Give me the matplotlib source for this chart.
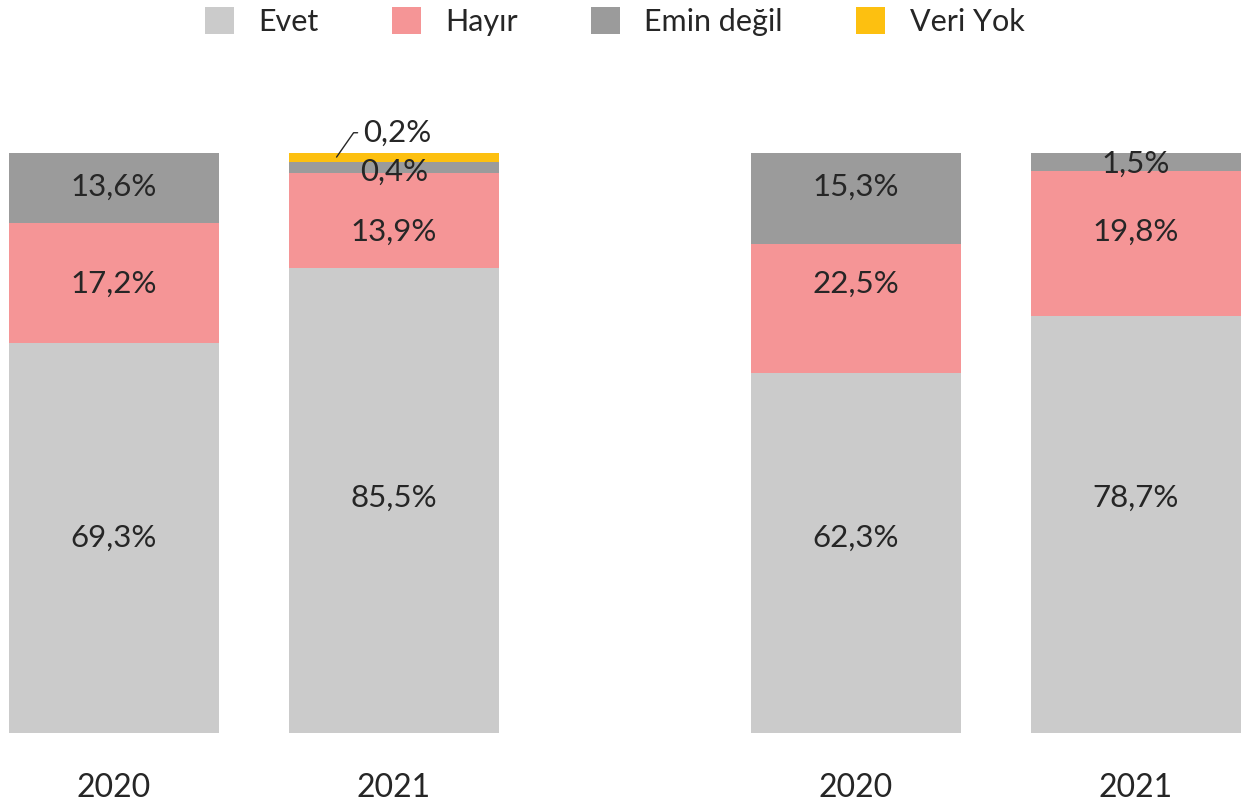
import numpy as np
import matplotlib as mpl
mpl.use('Agg')
import matplotlib.pyplot as plt

plt.rcParams['font.family'] = ['Lato', 'DejaVu Sans']

years = ['2020', '2021', '2020', '2021']
series = ['Evet', 'Hayır', 'Emin değil', 'Veri Yok']
colors = ['#cbcbcb', '#f59596', '#9b9b9b', '#fdc010']

# bar heights as drawn in the picture (%)
evet = [67.2, 80.2, 62.1, 71.9]
hayir = [20.8, 16.3, 22.2, 25.0]
emin = [12.0, 2.0, 15.7, 3.1]
veri_yok = [0.0, 1.5, 0.0, 0.0]

# printed labels
evet_lbl = ['69,3%', '85,5%', '62,3%', '78,7%']
hayir_lbl = ['17,2%', '13,9%', '22,5%', '19,8%']
emin_lbl = ['13,6%', '0,4%', '15,3%', '1,5%']
veri_lbl = ['', '0,2%', '', '']

# where the labels sit (same y for each year column, as in the source)
evet_y = [33.7, 40.5, 33.7, 40.5]
hayir_y = [77.5, 86.4, 77.5, 86.4]
emin_y = [94.1, 96.8, 94.1, 98.2]

txt = '#262626'
pos = np.array([0, 1, 2.65, 3.65])
width = 0.75
fs = 22.5

fig = plt.figure(figsize=(12.44, 8.05), dpi=100)
ax = fig.add_axes([0, 0.0898, 1, 0.7201])

vals = [evet, hayir, emin, veri_yok]
bottom = np.zeros(4)
for name, col, v in zip(series, colors, vals):
    v = np.array(v)
    ax.bar(pos, v, width, bottom=bottom, color=col, label=name, linewidth=0)
    bottom += v

for lab, ys in [(evet_lbl, evet_y), (hayir_lbl, hayir_y), (emin_lbl, emin_y)]:
    for i in range(4):
        ax.text(pos[i], ys[i], lab[i], ha='center', va='center', fontsize=fs, color=txt)

# leader label for the tiny Veri Yok slice
ax.annotate(veri_lbl[1], xy=(pos[1] - 0.205, 99.3), xytext=(pos[1] - 0.11, 103.5),
            ha='left', va='center', fontsize=fs, color=txt, annotation_clip=False,
            arrowprops=dict(arrowstyle='-', color=txt, lw=1, shrinkA=2, shrinkB=0,
                            connectionstyle='angle,angleA=0,angleB=55,rad=0'))

ax.set_xlim(-0.407, 4.036)
ax.set_ylim(0, 100)
ax.set_xticks(pos)
ax.set_xticklabels(years, fontsize=23, color=txt)
ax.tick_params(axis='x', length=0, pad=29)
ax.set_yticks([])
for s in ax.spines.values():
    s.set_visible(False)

fig.legend(loc='upper center', bbox_to_anchor=(0.494, 1.025), ncol=4, frameon=False,
           fontsize=22, handlelength=0.95, handleheight=0.95, handletextpad=0.8,
           columnspacing=2.4, labelcolor=txt)

plt.savefig('out.png', dpi=100)
plt.close()
